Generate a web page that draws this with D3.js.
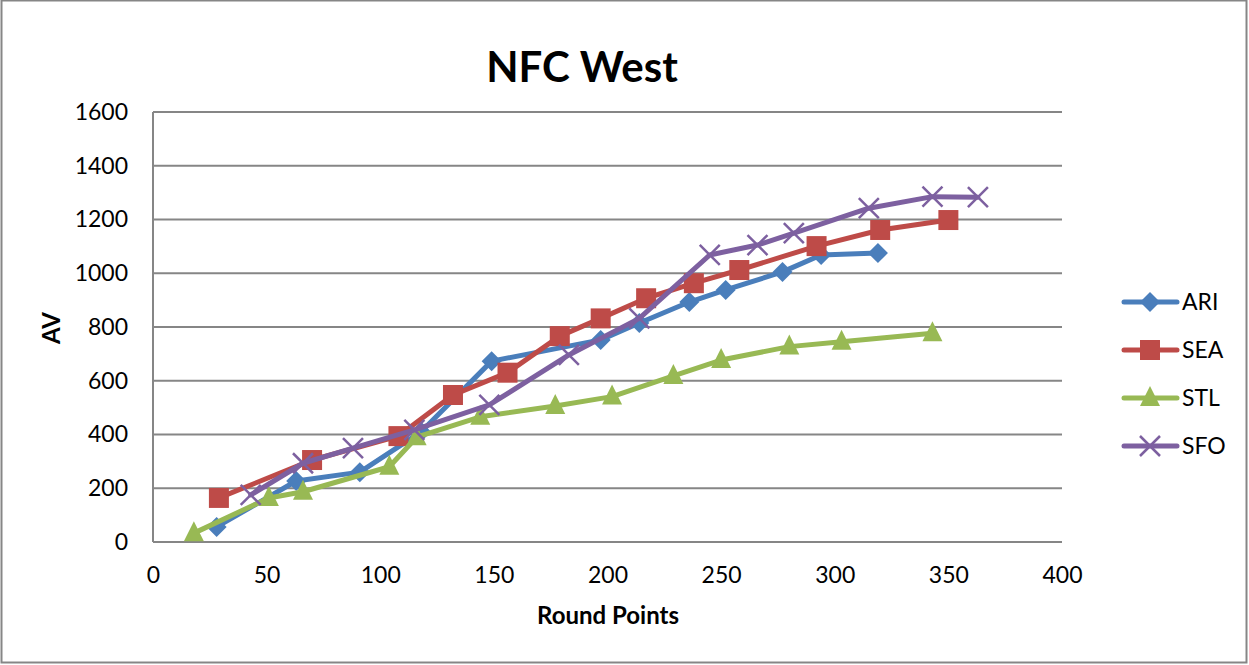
<!DOCTYPE html>
<html><head><meta charset="utf-8">
<script src="https://cdn.jsdelivr.net/npm/d3@7"></script>
<style>body{margin:0;background:#fff;} svg{display:block;font-family:Lato,"Open Sans",sans-serif;}</style>
</head><body>
<svg id="c" width="1249" height="665"></svg>
<script>
const xTicks = [0,50,100,150,200,250,300,350,400];
const yTicks = [0,200,400,600,800,1000,1200,1400,1600];
const seriesNames = ["ARI","SEA","STL","SFO"];
const seriesColors = ["#4A7EBB","#BE4B48","#98B954","#7D60A0"];
const seriesMarkers = ["diamond","square","triangle","cross"];
const ariX = [28,63,91,118,149,197,214,236,252,277,294,319];
const ariY = [56,227,260,410,673,752,815,893,938,1005,1068,1075];
const seaX = [29,70,108,132,156,179,197,217,238,258,292,320,350];
const seaY = [164,305,394,547,630,766,832,907,963,1012,1101,1161,1198];
const stlX = [18,51,66,104,116,144,177,202,229,250,280,303,343];
const stlY = [33,164,187,280,390,466,506,541,618,677,727,745,777];
const sfoX = [43,66,88,115,148,183,214,245,266,282,315,343,363];
const sfoY = [175,293,349,417,510,696,832,1068,1105,1149,1242,1285,1283];
const seriesX = [ariX,seaX,stlX,sfoX];
const seriesY = [ariY,seaY,stlY,sfoY];

const svg = d3.select("#c");
svg.append("rect").attr("x",1.5).attr("y",0.5).attr("width",1245).attr("height",662)
  .attr("fill","#fff").attr("stroke","#868686").attr("stroke-width",2);

const x = d3.scaleLinear().domain([0,400]).range([153,1062]);
const y = d3.scaleLinear().domain([0,1600]).range([542,112]);

svg.append("g").selectAll("line").data(yTicks).join("line")
  .attr("x1",x(0)).attr("x2",x(400)).attr("y1",d=>y(d)).attr("y2",d=>y(d))
  .attr("stroke","#868686").attr("stroke-width",2);
svg.append("line").attr("x1",x(0)).attr("x2",x(0)).attr("y1",y(0)).attr("y2",y(1600))
  .attr("stroke","#868686").attr("stroke-width",2);

const yAxis = svg.append("g").attr("transform",`translate(${x(0)},0)`)
  .call(d3.axisLeft(y).tickValues(yTicks).tickFormat(d3.format("d")).tickSize(0).tickPadding(25));
yAxis.select(".domain").remove();
yAxis.selectAll("text").attr("font-size",23).attr("font-family","Lato, sans-serif").attr("fill","#000");
const xAxis = svg.append("g").attr("transform",`translate(0,${y(0)})`)
  .call(d3.axisBottom(x).tickValues(xTicks).tickFormat(d3.format("d")).tickSize(0).tickPadding(25));
xAxis.select(".domain").remove();
xAxis.selectAll("text").attr("font-size",23).attr("font-family","Lato, sans-serif").attr("fill","#000");

svg.append("text").attr("x",582).attr("y",82).attr("text-anchor","middle")
  .attr("font-size",42).attr("font-weight","bold").text("NFC West");
svg.append("text").attr("x",608).attr("y",624).attr("text-anchor","middle")
  .attr("font-size",24).attr("font-weight","bold").text("Round Points");
svg.append("text").attr("transform","translate(60,328) rotate(-90)").attr("text-anchor","middle")
  .attr("font-size",24).attr("font-weight","bold").text("AV");

function marker(g, type, color){
  if(type==="diamond"){
    g.append("path").attr("d","M0,-10L10,0L0,10L-10,0Z").attr("fill",color);
  } else if(type==="square"){
    g.append("rect").attr("x",-10).attr("y",-10).attr("width",20).attr("height",20).attr("fill",color);
  } else if(type==="triangle"){
    g.append("path").attr("d","M0,-12L10,8L-10,8Z").attr("fill",color);
  } else {
    g.append("path").attr("d","M-10,-10L10,10M-10,10L10,-10").attr("stroke",color).attr("stroke-width",2.5);
  }
}

const line = d3.line().x(d=>x(d[0])).y(d=>y(d[1]));
seriesNames.forEach((name,i)=>{
  const pts = seriesX[i].map((v,j)=>[v,seriesY[i][j]]);
  const g = svg.append("g");
  g.append("path").attr("d",line(pts)).attr("fill","none").attr("stroke",seriesColors[i])
    .attr("stroke-width",5).attr("stroke-linejoin","round").attr("stroke-linecap","round");
  pts.forEach(p=>{
    const m = g.append("g").attr("transform",`translate(${x(p[0])},${y(p[1])})`);
    marker(m, seriesMarkers[i], seriesColors[i]);
  });
});

const leg = svg.append("g");
seriesNames.forEach((name,i)=>{
  const cy = 302 + i*48;
  const g = leg.append("g");
  g.append("line").attr("x1",1124).attr("x2",1177).attr("y1",cy).attr("y2",cy)
    .attr("stroke",seriesColors[i]).attr("stroke-width",5).attr("stroke-linecap","round");
  const m = g.append("g").attr("transform",`translate(1150,${cy})`);
  marker(m, seriesMarkers[i], seriesColors[i]);
  g.append("text").attr("x",1182).attr("y",cy+8).attr("font-size",23).text(name);
});
</script>
</body></html>
